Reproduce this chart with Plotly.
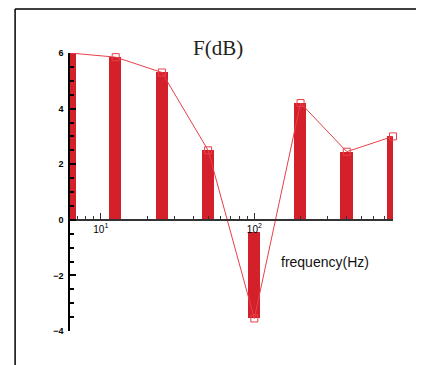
import numpy as np
import plotly.graph_objects as go

freq = [6.3, 12.5, 25, 50, 100, 200, 400, 800]
level_db = [6.0, 5.85, 5.3, 2.5, -3.55, 4.2, 2.45, 3.0]
bar_base = [0, 0, 0, 0, -0.45, 0, 0, 0]
x_tickvals = [10, 100]
x_ticktext = ["10<sup>1</sup>", "10<sup>2</sup>"]
x_minor = [7, 8, 9, 20, 30, 40, 50, 60, 70, 80, 90, 200, 300, 400, 500, 600, 700]

RED = "#d3202a"
LINE_RED = "#e8404a"

bar_h = [v - b for v, b in zip(level_db, bar_base)]
bar_w = [f * 0.18 for f in freq]

fig = go.Figure()
fig.add_trace(go.Bar(
    x=freq, y=bar_h, base=bar_base, width=bar_w,
    marker=dict(color=RED, line=dict(width=0)),
    showlegend=False,
))
fig.add_trace(go.Scatter(
    x=freq, y=level_db, mode="lines+markers",
    line=dict(color=LINE_RED, width=1),
    marker=dict(symbol="square-open", size=7, color=LINE_RED, line=dict(width=1)),
    cliponaxis=False, showlegend=False,
))

fig.update_layout(
    width=416, height=357,
    margin=dict(l=62, r=31, t=45, b=34),
    paper_bgcolor="white", plot_bgcolor="white",
    font=dict(family="Liberation Sans, Arial, sans-serif", color="black"),
    xaxis=dict(
        type="log", range=[np.log10(6.3), np.log10(800)],
        anchor="free", position=0.4, automargin=False,
        showline=True, linecolor="#333", linewidth=1.5,
        showgrid=False, zeroline=False,
        tickvals=x_tickvals, ticktext=x_ticktext,
        ticks="inside", ticklen=6, tickcolor="#333", tickwidth=1,
        tickfont=dict(size=10),
        minor=dict(tickvals=x_minor, ticks="inside", ticklen=3, tickcolor="#333", showgrid=False),
    ),
    yaxis=dict(
        range=[-4, 6], showline=True, linecolor="black", linewidth=1.5,
        showgrid=False, zeroline=False, automargin=False,
        tickmode="linear", tick0=0, dtick=2,
        ticks="inside", ticklen=6, tickcolor="black", tickwidth=1.5,
        tickfont=dict(size=9, family="Liberation Sans, Arial, sans-serif", weight="bold"),
        ticklabelstandoff=3,
        minor=dict(dtick=0.5, ticks="inside", ticklen=4, tickcolor="black", showgrid=False),
    ),
    annotations=[
        dict(text="F(dB)", xref="paper", yref="paper", x=0.458, y=1.018,
             showarrow=False, xanchor="center", yanchor="middle",
             font=dict(family="Liberation Serif, Times New Roman, serif", size=21, color="#222")),
        dict(text="frequency(Hz)", xref="paper", yref="paper", x=0.789, y=0.248,
             showarrow=False, xanchor="center", yanchor="middle",
             font=dict(family="Liberation Sans, Arial, sans-serif", size=14, color="#111")),
    ],
    shapes=[
        dict(type="line", xref="paper", yref="paper", x0=-0.170, x1=-0.170, y0=1.158, y1=-0.13,
             line=dict(color="black", width=1.5)),
        dict(type="line", xref="paper", yref="paper", x0=-0.170, x1=1.1, y0=1.158, y1=1.158,
             line=dict(color="black", width=1.5)),
    ],
    bargap=0,
)

fig.write_html("out.html")
